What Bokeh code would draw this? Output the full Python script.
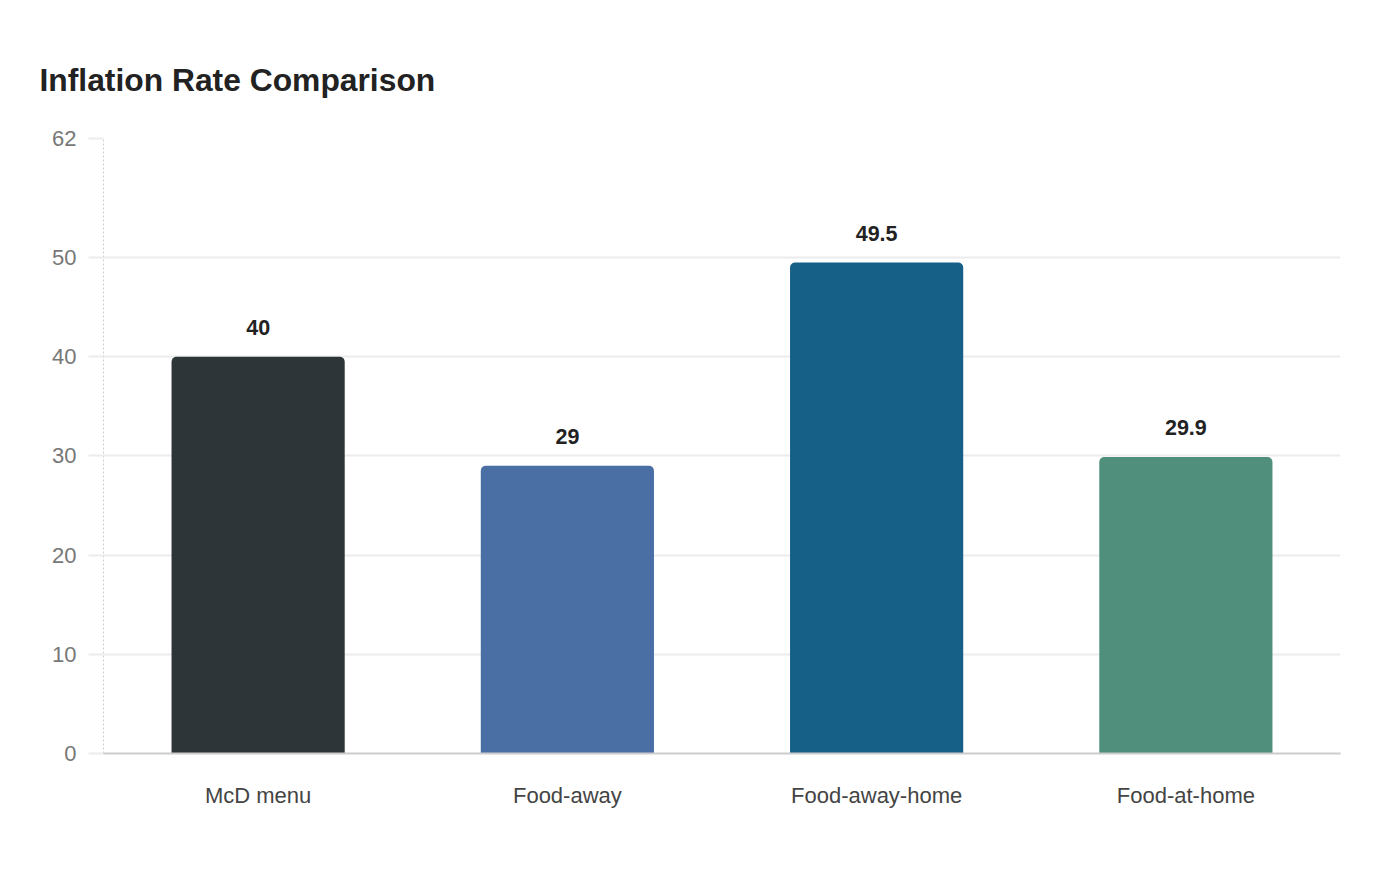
from bokeh.core.properties import value
from bokeh.embed import file_html
from bokeh.models import ColumnDataSource, FixedTicker
from bokeh.plotting import figure
from bokeh.resources import INLINE

categories = ["McD menu", "Food-away", "Food-away-home", "Food-at-home"]
rates = [40, 29, 49.5, 29.9]
bar_colors = ["#2d3538", "#4a6fa5", "#166088", "#4f8f7b"]
rate_labels = ["40", "29", "49.5", "29.9"]
y_ticks = [0, 10, 20, 30, 40, 50, 62]

FONT = "Liberation Sans"

source = ColumnDataSource(data=dict(
    cat=categories,
    rate=rates,
    color=bar_colors,
    label=rate_labels,
))

p = figure(
    x_range=categories,
    y_range=(0, 62),
    width=1380,
    height=860,
    title="Inflation Rate Comparison",
    output_backend="svg",
    toolbar_location=None,
    tools="",
    min_border_left=103,
    min_border_right=40,
    min_border_top=138,
    min_border_bottom=107,
)

# title
p.title.text_font = FONT
p.title.text_font_size = "31.8px"
p.title.text_font_style = "bold"
p.title.text_color = "#222222"
p.title.align = "left"
p.title.offset = -64
p.title.standoff = 82

p.outline_line_color = None
p.background_fill_color = "white"
p.border_fill_color = "white"

# bars with rounded tops
p.vbar(x="cat", top="rate", width=0.56, source=source, fill_color="color",
       line_color=None, border_radius=(5, 5, 0, 0))

# value labels
p.text(x="cat", y="rate", text="label", source=source,
       text_font=value(FONT), text_font_size="21.5px", text_font_style="bold",
       text_color="#222222", text_align="center", text_baseline="alphabetic",
       y_offset=-29)

# y axis
p.yaxis.ticker = FixedTicker(ticks=y_ticks)
p.yaxis.axis_line_color = "#cfcfcf"
p.yaxis.axis_line_dash = "2 2"
p.yaxis.major_tick_in = 0
p.yaxis.major_tick_out = 15
p.yaxis.major_tick_line_color = "#ececec"
p.yaxis.major_tick_line_width = 2
p.yaxis.minor_tick_line_color = None
p.yaxis.major_label_standoff = 12
p.yaxis.major_label_text_font = FONT
p.yaxis.major_label_text_font_size = "22px"
p.yaxis.major_label_text_color = "#777777"

# x axis
p.xaxis.axis_line_color = "#cccccc"
p.xaxis.axis_line_width = 2
p.xaxis.major_tick_line_color = None
p.xaxis.minor_tick_line_color = None
p.xaxis.major_label_standoff = 23
p.xaxis.major_label_text_font = FONT
p.xaxis.major_label_text_font_size = "22px"
p.xaxis.major_label_text_color = "#444444"

# grid
p.xgrid.grid_line_color = None
p.ygrid.grid_line_color = "#ececec"
p.ygrid.grid_line_width = 2
p.ygrid.ticker = FixedTicker(ticks=y_ticks)

open("out.html", "w").write(file_html(p, INLINE))
